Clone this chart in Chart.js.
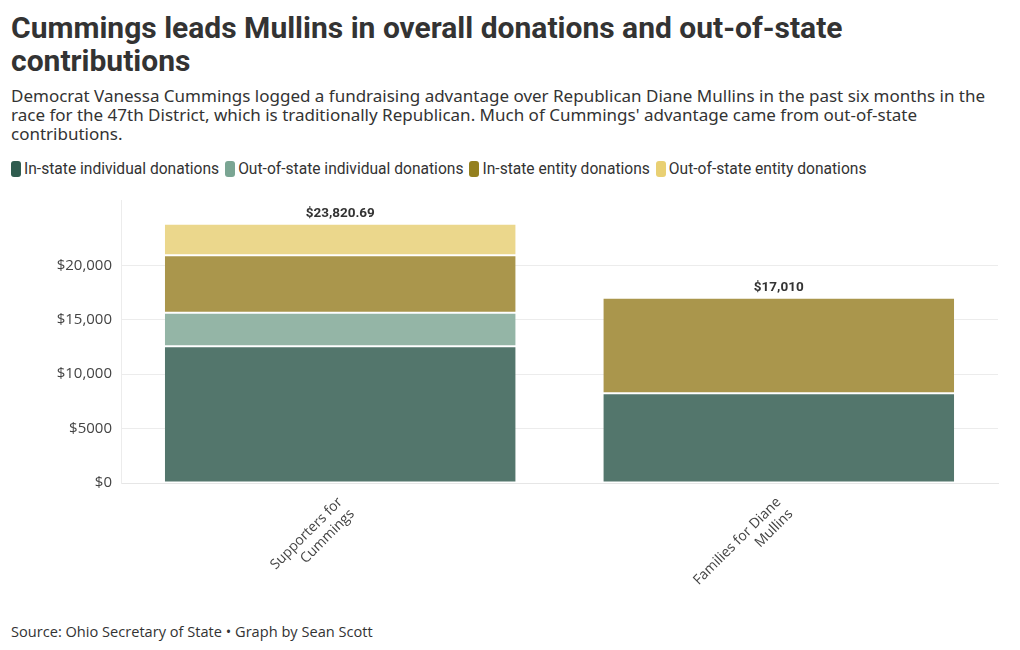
<!DOCTYPE html>
<html lang="en">
<head>
    <meta charset="UTF-8">
    <title>Cummings leads Mullins</title>
    <script src="https://cdn.jsdelivr.net/npm/chart.js"></script>
    <style>
        body {
            margin: 0;
            background: #ffffff;
            color: #333;
            font-family: "Open Sans", "Noto Sans", sans-serif;
            width: 1020px;
            height: 650px;
            position: relative;
            overflow: hidden;
        }
        h1 {
            position: absolute;
            left: 11px;
            top: 11px;
            width: 900px;
            margin: 0;
            font-family: Roboto, sans-serif;
            font-weight: 700;
            font-size: 30px;
            line-height: 33px;
            color: #333;
        }
        .sub {
            position: absolute;
            left: 11px;
            top: 86px;
            width: 1005px;
            margin: 0;
            font-family: "Noto Sans", sans-serif;
            font-size: 17px;
            line-height: 19px;
            color: #333;
        }
        .legend {
            position: absolute;
            left: 11px;
            top: 160px;
            display: flex;
            font-family: Roboto, sans-serif;
            font-size: 15.6px;
            color: #333;
        }
        .legend span.item {
            display: flex;
            align-items: center;
            margin-right: 6px;
        }
        .legend i {
            display: inline-block;
            width: 10px;
            height: 16px;
            border-radius: 3px;
            margin-right: 3px;
        }
        .chart-box {
            position: absolute;
            left: 0;
            top: 182px;
            width: 1020px;
            height: 427px;
        }
        .footer {
            position: absolute;
            left: 11px;
            top: 621px;
            font-size: 14.6px;
            color: #333;
        }
    </style>
</head>
<body>
    <h1>Cummings leads Mullins in overall donations and out-of-state contributions</h1>
    <p class="sub">Democrat Vanessa Cummings logged a fundraising advantage over Republican Diane Mullins in the past six months in the<br>race for the 47th District, which is traditionally Republican. Much of Cummings' advantage came from out-of-state<br>contributions.</p>
    <div class="legend" id="legend"></div>
    <div class="chart-box"><canvas id="chart"></canvas></div>
    <div class="footer">Source: Ohio Secretary of State &bull; Graph by Sean Scott</div>

    <script>
        const committees = [['Supporters for', 'Cummings'], ['Families for Diane', 'Mullins']];
        const seriesNames = ['In-state individual donations', 'Out-of-state individual donations', 'In-state entity donations', 'Out-of-state entity donations'];
        const inStateIndividual = [12560, 8240];
        const outStateIndividual = [3080, 0];
        const inStateEntity = [5280, 8770];
        const outStateEntity = [2900.69, 0];
        const totalLabels = ['$23,820.69', '$17,010'];
        const tickValues = [0, 5000, 10000, 15000, 20000];

        const legendColors = ['#2f5c4f', '#7aa593', '#94801f', '#e9d073'];
        const barColors = ['#53766c', '#94b5a6', '#aa964c', '#ebd78c'];

        // HTML legend
        const legend = document.getElementById('legend');
        seriesNames.forEach((name, i) => {
            const item = document.createElement('span');
            item.className = 'item';
            item.innerHTML = '<i style="background:' + legendColors[i] + '"></i>' + name;
            legend.appendChild(item);
        });

        const allSeries = [inStateIndividual, outStateIndividual, inStateEntity, outStateEntity];

        // write the totals above each stack
        const totalsPlugin = {
            id: 'totals',
            afterDatasetsDraw(chart) {
                const ctx = chart.ctx;
                const yScale = chart.scales.y;
                const xScale = chart.scales.x;
                ctx.save();
                ctx.font = 'bold 13.5px Roboto, sans-serif';
                ctx.fillStyle = '#333';
                ctx.textAlign = 'center';
                ctx.textBaseline = 'bottom';
                committees.forEach((c, i) => {
                    const sum = allSeries.reduce((s, arr) => s + arr[i], 0);
                    ctx.fillText(totalLabels[i], xScale.getPixelForValue(i), yScale.getPixelForValue(sum) - 3);
                });
                ctx.restore();
            }
        };

        new Chart(document.getElementById('chart'), {
            type: 'bar',
            data: {
                labels: committees,
                datasets: allSeries.map((arr, i) => ({
                    label: seriesNames[i],
                    data: arr,
                    backgroundColor: barColors[i],
                    borderColor: '#ffffff',
                    borderWidth: { top: 1, bottom: 1, left: 0, right: 0 },
                    borderSkipped: false,
                    barPercentage: 0.8,
                    categoryPercentage: 1.0
                }))
            },
            options: {
                responsive: true,
                maintainAspectRatio: false,
                animation: false,
                layout: { padding: { top: 2, right: 22, left: 0, bottom: 0 } },
                plugins: {
                    legend: { display: false },
                    tooltip: { enabled: false }
                },
                scales: {
                    x: {
                        stacked: true,
                        grid: { display: false, drawOnChartArea: false },
                        border: { color: '#e6e6e6' },
                        ticks: {
                            minRotation: 45,
                            maxRotation: 45,
                            color: '#444',
                            font: { family: 'Open Sans', size: 14 }
                        },
                        afterFit(axis) { axis.height = 126; }
                    },
                    y: {
                        stacked: true,
                        min: 0,
                        max: 26000,
                        grid: { color: '#ececec', drawTicks: false },
                        border: { display: true, color: '#ececec' },
                        afterBuildTicks(axis) {
                            axis.ticks = tickValues.map(v => ({ value: v }));
                        },
                        ticks: {
                            padding: 9,
                            color: '#444',
                            font: { family: 'Open Sans', size: 15 },
                            callback: v => v >= 10000 ? '$' + v.toLocaleString('en-US') : '$' + v
                        },
                        afterFit(axis) { axis.width = 121; }
                    }
                }
            },
            plugins: [totalsPlugin]
        });
    </script>
</body>
</html>
